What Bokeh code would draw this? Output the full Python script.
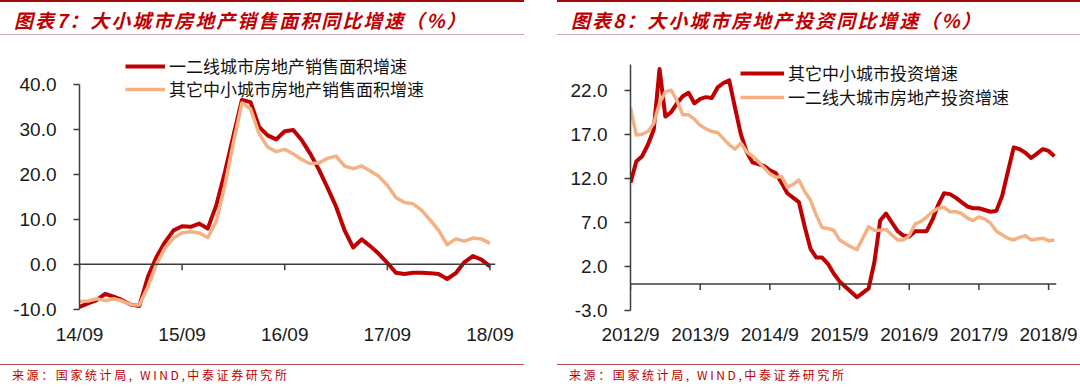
from bokeh.plotting import figure
from bokeh.models import (Range1d, FixedTicker, Span, Legend, LegendItem, Div, Spacer,
                          NumeralTickFormatter)
from bokeh.layouts import row, column
from bokeh.embed import file_html
from bokeh.resources import INLINE

# ---------------- data: left panel (sales area growth, %, monthly 2014/09 - 2018/09)
left_title = "图表7：大小城市房地产销售面积同比增速（%）"
left_names = ["一二线城市房地产销售面积增速", "其它中小城市房地产销售面积增速"]
left_xticklabels = ["14/09", "15/09", "16/09", "17/09", "18/09"]
left_yticks = [-10, 0, 10, 20, 30, 40]
left_big = [-9.5, -8.7, -8.0, -6.6, -7.2, -8.0, -9.0, -9.3, -2.8, 1.6,
            4.9, 7.5, 8.4, 8.3, 9.0, 7.9, 13.1, 20.4, 28.5, 36.5,
            36.0, 30.5, 28.6, 27.7, 29.5, 29.8, 27.5, 24.5, 21.0, 17.0,
            12.8, 7.5, 3.7, 5.5, 4.0, 2.3, 0.3, -1.9, -2.2, -1.9,
            -1.9, -2.0, -2.2, -3.3, -2.0, 0.4, 1.8, 1.0, -0.5]
left_small = [-8.3, -8.2, -7.7, -8.1, -7.7, -8.2, -9.0, -9.1, -5.0, 0.0,
              3.6, 5.8, 7.0, 7.2, 6.9, 5.9, 9.5, 17.5, 27.0, 35.8,
              34.5, 29.0, 26.0, 25.0, 25.5, 24.5, 23.2, 22.3, 22.5, 23.5,
              24.0, 21.8, 21.2, 21.8, 20.7, 19.5, 17.5, 14.8, 13.7, 13.4,
              12.0, 9.8, 7.5, 4.3, 5.6, 5.1, 5.8, 5.6, 4.6]

# ---------------- data: right panel (investment growth, %, monthly 2012/09 - 2018/10)
right_title = "图表8：大小城市房地产投资同比增速（%）"
right_names = ["其它中小城市投资增速", "一二线大城市房地产投资增速"]
right_xticklabels = ["2012/9", "2013/9", "2014/9", "2015/9", "2016/9", "2017/9", "2018/9"]
right_yticks = [-3, 2, 7, 12, 17, 22]
right_small = [11.5, 13.9, 14.5, 15.8, 17.5, 24.4, 19.0, 19.5, 20.5, 21.3,
               21.7, 20.5, 21.0, 21.2, 21.1, 22.3, 22.8, 23.1, 20.0, 17.0,
               15.0, 13.8, 13.6, 13.4, 12.9, 12.6, 11.5, 10.3, 9.8, 9.3,
               6.5, 4.0, 3.0, 3.0, 2.3, 1.2, 0.3, -0.3, -0.9, -1.5,
               -1.0, -0.5, 2.5, 7.2, 8.0, 7.0, 6.0, 5.5, 5.4, 6.0,
               6.0, 6.0, 7.3, 9.0, 10.3, 10.2, 9.8, 9.3, 8.8, 8.6,
               8.6, 8.4, 8.2, 8.3, 10.0, 12.8, 15.5, 15.3, 14.9, 14.3,
               14.8, 15.3, 15.1, 14.5]
right_big = [20.0, 16.9, 17.0, 17.3, 18.2, 20.5, 21.8, 22.0, 20.8, 19.2,
             19.2, 18.7, 18.0, 17.6, 17.3, 17.2, 16.5, 15.8, 15.3, 16.0,
             15.0, 14.5, 13.9, 13.2, 12.5, 12.1, 12.2, 11.0, 11.3, 11.8,
             10.5, 9.5, 7.8, 6.4, 6.3, 6.1, 5.0, 4.6, 4.2, 3.9,
             5.2, 6.5, 6.1, 6.1, 6.2, 5.6, 5.0, 5.0, 5.5, 6.8,
             7.1, 7.6, 8.2, 8.6, 8.7, 8.2, 8.2, 8.0, 7.5, 7.2,
             7.6, 7.4, 6.9, 6.0, 5.6, 5.2, 5.0, 5.3, 5.5, 5.0,
             5.1, 5.2, 4.9, 5.0]

source_text = "来源：国家统计局, WIND,中泰证券研究所"

RED = "#C00000"
PEACH = "#F4B183"
AXIS = "#3c3c3c"
CJK = "Noto Sans CJK SC"


def make_fig(width, mbl, mbr, mbt, mbb, xr, yr, yticks, xlabels, xstep, ybounds,
             series, names, leg_x, leg_rows, row_h, glyph_w, tick_px_len):
    height = 319
    p = figure(width=width, height=height, x_range=Range1d(*xr), y_range=Range1d(*yr),
               output_backend="svg", toolbar_location=None, title=None,
               min_border_left=mbl, min_border_right=mbr, min_border_top=mbt,
               min_border_bottom=mbb)
    p.outline_line_color = None
    p.grid.visible = False
    p.background_fill_color = "white"
    p.border_fill_color = "white"

    # y axis
    ya = p.yaxis[0]
    ya.ticker = FixedTicker(ticks=yticks)
    ya.formatter = NumeralTickFormatter(format="0.0")
    ya.axis_line_color = AXIS
    ya.axis_line_width = 1.5
    ya.major_tick_line_color = AXIS
    ya.major_tick_line_width = 1.5
    ya.major_tick_out = 6
    ya.major_tick_in = 0
    ya.minor_tick_line_color = None
    ya.major_label_standoff = 17
    ya.major_label_text_font = "Liberation Sans"
    ya.major_label_text_font_size = "19px"
    ya.major_label_text_color = "#1a1a1a"
    ya.bounds = ybounds

    # x axis: labels at the bottom only, ticks drawn on the zero line
    xticks = [i * xstep for i in range(len(xlabels))]
    xa = p.xaxis[0]
    xa.ticker = FixedTicker(ticks=xticks)
    xa.major_label_overrides = {t: lab for t, lab in zip(xticks, xlabels)}
    xa.axis_line_color = None
    xa.major_tick_line_color = None
    xa.minor_tick_line_color = None
    xa.major_tick_out = 0
    xa.major_tick_in = 0
    xa.major_label_standoff = 13
    xa.major_label_text_font = "Liberation Sans"
    xa.major_label_text_font_size = "19px"
    xa.major_label_text_color = "#1a1a1a"

    p.add_layout(Span(location=0, dimension="width", line_color=AXIS, line_width=1.5))
    frame_h = height - mbt - mbb
    px_per_unit = frame_h / (yr[1] - yr[0])
    tl = tick_px_len / px_per_unit
    p.segment(x0=xticks, y0=[0] * len(xticks), x1=xticks, y1=[-tl] * len(xticks),
              line_color=AXIS, line_width=1.5)

    renderers = []
    for (vals, color, lw) in series:
        xs = list(range(len(vals)))
        r = p.line(xs, vals, line_color=color, line_width=lw, line_join="round")
        renderers.append(r)

    # one legend per entry so that rows can be placed freely
    for r, name, yc in zip(renderers, names, leg_rows):
        lg = Legend(items=[LegendItem(label=name, renderers=[r])],
                    location=(leg_x, frame_h - yc - row_h // 2),
                    glyph_width=glyph_w, glyph_height=row_h, label_height=row_h,
                    label_standoff=4, padding=0, margin=0, spacing=0,
                    border_line_color=None, background_fill_alpha=0,
                    label_text_font=CJK, label_text_font_size="17px",
                    label_text_color="#111111")
        p.add_layout(lg)
    return p


def title_div(text, width):
    return Div(text=text, width=width, height=36, styles={
        "border-top": "3px solid #A00A0A",
        "border-bottom": "1px solid #C9A7A7",
        "box-sizing": "border-box",
        "color": "#C00000",
        "font-family": "'Noto Sans CJK SC', sans-serif",
        "font-style": "italic",
        "font-weight": "bold",
        "font-size": "19px",
        "letter-spacing": "2px",
        "padding-left": "14px",
        "line-height": "35px",
        "white-space": "nowrap",
        "overflow": "hidden",
    })


def footer_div(text, width):
    return Div(text=text, width=width, height=30, styles={
        "border-top": "1px solid #B45050",
        "box-sizing": "border-box",
        "color": "#C00000",
        "font-family": "'Noto Sans CJK SC', sans-serif",
        "font-size": "12px",
        "letter-spacing": "2.6px",
        "padding-left": "12px",
        "padding-top": "1px",
        "line-height": "18px",
        "white-space": "nowrap",
    })


# left panel: frame x 87..503, y 45..308
p1 = make_fig(524, 84, 24, 7, 49, (0, 48.65), (-10.3, 48.12), left_yticks,
              left_xticklabels, 12, (-10, 40),
              [(left_big, RED, 4), (left_small, PEACH, 3.5)], left_names,
              46, [20, 43], 22, 40, 6)
# right panel: frame x 628..1054, y 45..308 (axis line drawn from -3 up to y=62)
p2 = make_fig(530, 78, 26, 7, 49, (0, 73.36), (-3.0, 26.83), right_yticks,
              right_xticklabels, 12, (-3.0, 24.9),
              [(right_small, RED, 4), (right_big, PEACH, 3.5)], right_names,
              110, [26, 50], 24, 44, 6)

left_col = column(Spacer(height=2), title_div(left_title, 524), p1, footer_div(source_text, 524))
right_col = column(Spacer(height=2), title_div(right_title, 530), p2, footer_div(source_text, 530))

root = row(Spacer(width=3), left_col, Spacer(width=23), right_col,
           styles={"margin-left": "-8px", "margin-top": "-8px"})

open("out.html", "w").write(file_html(root, INLINE))
